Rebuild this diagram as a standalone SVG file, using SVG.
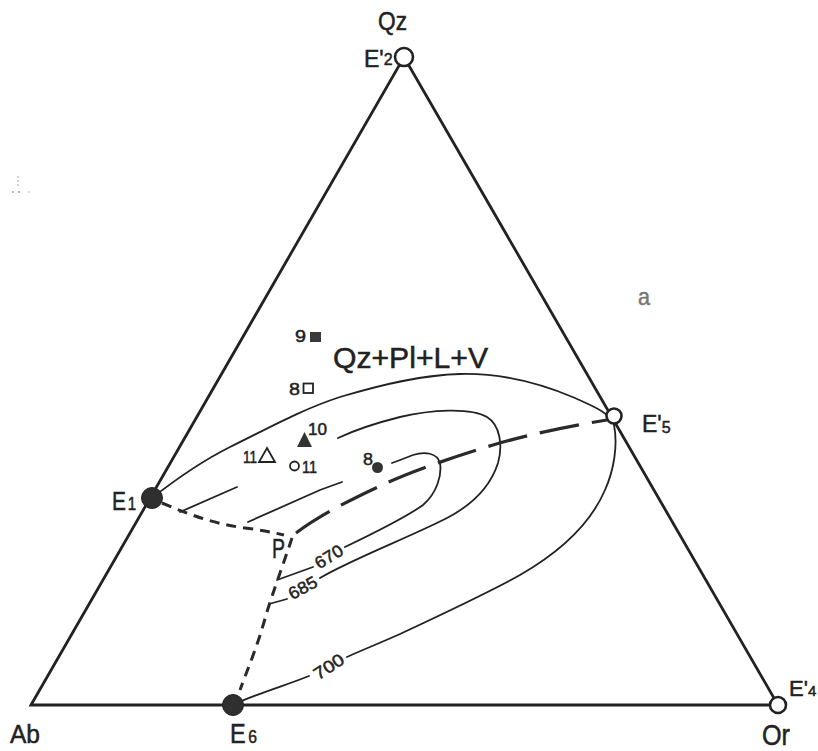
<svg xmlns="http://www.w3.org/2000/svg" width="818" height="751" viewBox="0 0 818 751">
<style>
.t{font-family:"Liberation Sans","DejaVu Sans",sans-serif;fill:#222;stroke:#222;stroke-width:0.5;}
.side{fill:none;stroke:#222;stroke-width:2.8;stroke-linejoin:miter;}
.iso{fill:none;stroke:#222;stroke-width:1.8;stroke-linecap:round;}
.cot{fill:none;stroke:#2a2a2a;stroke-width:3.2;stroke-dasharray:40 13;}
.sd{fill:none;stroke:#2a2a2a;stroke-width:3;stroke-dasharray:10 7;}
.open{fill:#fff;stroke:#222;stroke-width:2.6;}
.full{fill:#2f2f2f;stroke:#222;stroke-width:1;}
</style>
<rect width="818" height="751" fill="#fff"/>
<g id="triangle"><path class="side" d="M31,705 L404,57 L778,705 Z"/></g>
<g id="connectors">
<path class="iso" d="M152,498 C175,480 200,462 230,447 C265,430 300,410 340,397 C380,385 420,375 460,374 C500,373 540,383 575,398 C595,407 610,413 614,425 C618,445 614,470 605,490 C590,525 560,552 520,575 C490,592 430,620 400,634 C380,643 360,651 347,657"/>
<path class="iso" d="M309,676 C290,684 255,694 233,705"/>
<path class="iso" d="M269,604 L287,599"/>
<path class="iso" d="M320,578 C350,560 410,537 447,518 C470,506 490,488 498,463 C503,445 500,425 487,417 C470,407 430,410 400,417 C380,422 355,430 338,438"/>
<path class="iso" d="M277,580 L313,567"/>
<path class="iso" d="M345,547 C370,535 405,518 423,505 C437,493 442,475 440,463 C437,453 425,451 413,455 C405,458 398,461 392,463"/>
<path class="iso" d="M180,512 L237,487"/>
<path class="iso" d="M248,522 L320,490 L342,482"/>
<path class="cot" d="M296,533 C320,515 350,500 380,486 C410,472 450,458 493,445 C530,434 570,426 607,420"/>
<path class="sd" d="M162,503 C190,515 215,524 245,528 C262,530 275,533 284,535"/>
<path class="sd" d="M292,538 C283,565 272,595 266,615 C258,645 248,668 240,690"/>
</g>
<g id="E2"><circle class="open" cx="404" cy="57" r="9"/>
<text class="t" x="364" y="67"><tspan font-size="23">E'</tspan><tspan font-size="16" dy="-2">2</tspan></text>
<text class="t" x="378" y="30" font-size="25" textLength="29" lengthAdjust="spacingAndGlyphs">Qz</text></g>
<g id="E5"><circle class="open" cx="614" cy="416" r="7.5"/>
<text class="t" x="642" y="432"><tspan font-size="23">E'</tspan><tspan font-size="16" dy="1">5</tspan></text></g>
<g id="E4"><circle class="open" cx="778" cy="705" r="8"/>
<text class="t" x="789" y="696"><tspan font-size="22">E'</tspan><tspan font-size="15">4</tspan></text>
<text class="t" x="762" y="745" font-size="30" textLength="28" lengthAdjust="spacingAndGlyphs">Or</text></g>
<g id="Ab"><text class="t" x="10" y="743" font-size="26" textLength="30" lengthAdjust="spacingAndGlyphs">Ab</text></g>
<g id="E6"><circle class="full" cx="233" cy="705" r="10.5"/>
<text class="t" x="230" y="743" textLength="27" lengthAdjust="spacingAndGlyphs"><tspan font-size="27">E</tspan><tspan font-size="18" dx="3">6</tspan></text></g>
<g id="E1"><circle class="full" cx="152" cy="498" r="10.5"/>
<text class="t" x="112" y="510" textLength="24" lengthAdjust="spacingAndGlyphs"><tspan font-size="25">E</tspan><tspan font-size="18" dx="2">1</tspan></text></g>
<g id="P"><text class="t" x="272" y="558" font-size="28" textLength="13" lengthAdjust="spacingAndGlyphs">P</text></g>
<g id="isotherm-labels">
<text class="t" x="329" y="557" font-size="17" text-anchor="middle" dominant-baseline="central" textLength="30" lengthAdjust="spacingAndGlyphs" transform="rotate(-32 329 557)">670</text>
<text class="t" x="303" y="588" font-size="17" text-anchor="middle" dominant-baseline="central" textLength="30" lengthAdjust="spacingAndGlyphs" transform="rotate(-28 303 588)">685</text>
<text class="t" x="329" y="667" font-size="17" text-anchor="middle" dominant-baseline="central" textLength="33" lengthAdjust="spacingAndGlyphs" transform="rotate(-33 329 667)">700</text>
</g>
<g id="field"><text class="t" x="333" y="368" font-size="30" textLength="155" lengthAdjust="spacingAndGlyphs">Qz+Pl+L+V</text></g>
<g id="pt9"><text class="t" x="295" y="342" font-size="16" textLength="11" lengthAdjust="spacingAndGlyphs">9</text><rect x="310" y="332" width="11" height="10" fill="#3a3a3a"/></g>
<g id="pt8sq"><text class="t" x="289" y="395" font-size="17" textLength="11" lengthAdjust="spacingAndGlyphs">8</text><rect x="303.5" y="383.5" width="9.5" height="9.5" fill="none" stroke="#222" stroke-width="1.8"/></g>
<g id="pt10"><polygon points="304.5,432 312,447 297,447" fill="#333"/><text class="t" x="308" y="435" font-size="16" textLength="19" lengthAdjust="spacingAndGlyphs">10</text></g>
<g id="pt11tri"><text class="t" x="243" y="463" font-size="17" textLength="14" lengthAdjust="spacingAndGlyphs">11</text><polygon points="267,448 275,462 259,462" fill="none" stroke="#222" stroke-width="1.8"/></g>
<g id="pt11circ"><circle cx="294.5" cy="466" r="4.5" fill="none" stroke="#222" stroke-width="1.8"/><text class="t" x="302" y="473" font-size="17" textLength="15" lengthAdjust="spacingAndGlyphs">11</text></g>
<g id="pt8dot"><text class="t" x="363" y="465" font-size="17" textLength="10" lengthAdjust="spacingAndGlyphs">8</text><circle cx="377.5" cy="467.5" r="5.5" fill="#333"/></g>
<g id="label-a"><text class="t" x="638" y="305" font-size="24" textLength="12" lengthAdjust="spacingAndGlyphs" style="fill:#777;stroke:#777">a</text></g>
<g id="specks" fill="#999"><circle cx="18" cy="177" r="0.8"/><circle cx="18" cy="181" r="0.8"/><circle cx="18" cy="185" r="0.8"/><circle cx="13" cy="192" r="0.9"/><circle cx="19" cy="192" r="1"/><circle cx="29" cy="192" r="0.7"/></g>
</svg>
